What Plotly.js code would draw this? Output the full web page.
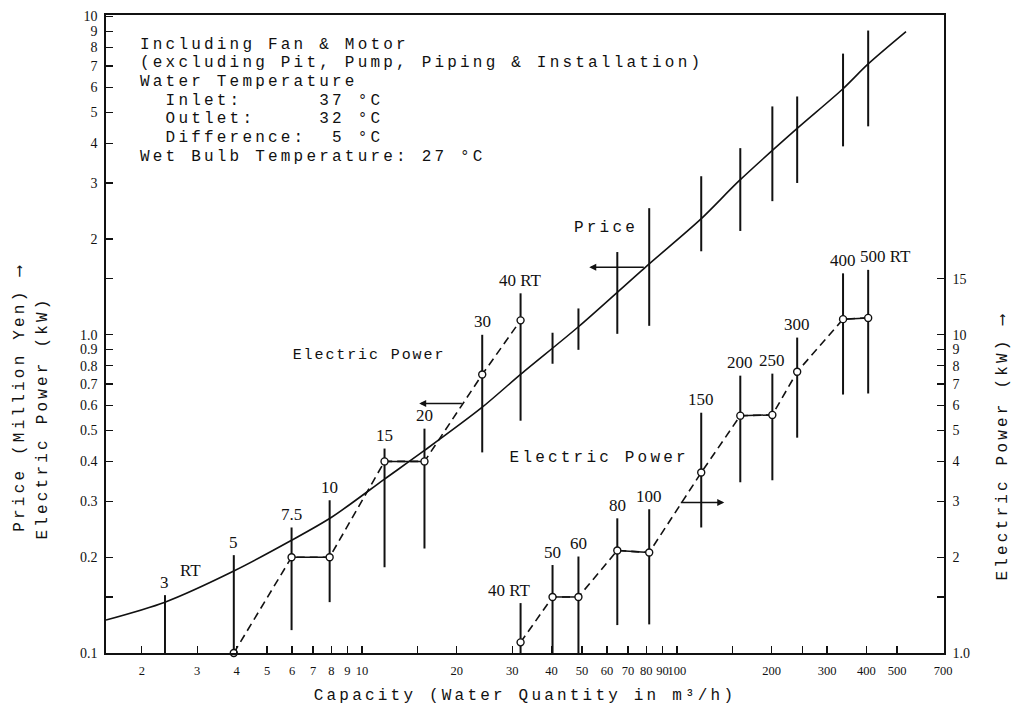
<!DOCTYPE html>
<html><head><meta charset="utf-8">
<script src="https://cdn.plot.ly/plotly-3.0.1.min.js"></script>
<style>body{margin:0;background:#fff}#chart{width:1015px;height:713px}</style>
</head><body><div id="chart"></div>
<script>
// ---- Price curve (Million Yen) ----
const priceX = [1.54, 2.37, 3.92, 5.98, 8.01, 11.8, 15.8, 24.0, 32.1, 48.7, 79.4, 118.6, 157.8, 239, 335, 405, 534];
const priceY = [0.127, 0.1445, 0.181, 0.226, 0.267, 0.352, 0.433, 0.59, 0.755, 1.06, 1.63, 2.3, 3.05, 4.42, 5.9, 7.1, 8.97];

// ---- Capacities (m3/h) of each tower size (vertical bars) ----
const barX = [2.37, 3.92, 5.98, 7.9, 11.8, 15.8, 24.1, 31.9, 40.3, 48.7, 64.7, 81.7, 119.5, 159, 201, 241, 337, 405];
// upper bars (left axis): lower / upper end
const upLo = [0.1, 0.1, 0.118, 0.1445, 0.186, 0.213, 0.427, 0.537, 0.811, 0.897, 1.007, 1.067, 1.83, 2.12, 2.63, 3.0, 3.91, 4.52];
const upHi = [0.152, 0.203, 0.248, 0.302, 0.439, 0.507, 1.0, 1.35, 1.015, 1.21, 1.82, 2.5, 3.15, 3.86, 5.22, 5.61, 7.65, 9.04];
// lower bars (right axis, kW) for 40 RT ... 500 RT
const lowX = [31.9, 40.3, 48.7, 64.7, 81.7, 119.5, 159, 201, 241, 337, 405];
const lowLo = [1.0, 1.0, 1.0, 1.224, 1.23, 2.48, 3.44, 3.49, 4.75, 6.49, 6.54];
const lowHi = [1.435, 1.89, 2.01, 2.65, 2.83, 5.69, 7.44, 7.55, 9.8, 15.6, 16.0];

// ---- Electric power, small towers (left axis, kW) ----
const pow1X = [3.92, 5.98, 7.9, 11.8, 15.8, 24.1, 31.9];
const pow1Y = [0.1, 0.2, 0.2, 0.4, 0.4, 0.75, 1.11];
const rt1Labels = ['3', '5', '7.5', '10', '15', '20', '30', '40 RT'];

// ---- Electric power, large towers (right axis, kW) ----
const pow2X = [31.9, 40.3, 48.7, 64.7, 81.7, 119.5, 159, 201, 241, 337, 405];
const pow2Y = [1.08, 1.5, 1.5, 2.1, 2.07, 3.69, 5.57, 5.6, 7.65, 11.2, 11.3];
const rt2Labels = ['40 RT', '50', '60', '80', '100', '150', '200', '250', '300', '400', '500 RT'];

// ---- Tick labels ----
const xTickVals = [2, 3, 4, 5, 6, 7, 8, 9, 10, 15, 20, 30, 40, 50, 60, 70, 80, 90, 100, 150, 200, 250, 300, 400, 500, 700];
const xTickText = ['2', '3', '4', '5', '6', '7', '8', '9', '10', '', '20', '30', '40', '50', '60', '70', '80', '90', '100', '', '200', '', '300', '400', '500', '700'];
const yTickVals = [0.1, 0.15, 0.2, 0.3, 0.4, 0.5, 0.6, 0.7, 0.8, 0.9, 1, 1.5, 2, 3, 4, 5, 6, 7, 8, 9, 10];
const yTickText = ['0.1', '', '0.2', '0.3', '0.4', '0.5', '0.6', '0.7', '0.8', '0.9', '1.0', '', '2', '3', '4', '5', '6', '7', '8', '9', '10'];
const y2TickVals = [1, 1.5, 2, 3, 4, 5, 6, 7, 8, 9, 10, 15];
const y2TickText = ['1.0', '', '2', '3', '4', '5', '6', '7', '8', '9', '10', '15'];

const noteLines = [
  'Including Fan & Motor',
  '(excluding Pit, Pump, Piping & Installation)',
  'Water Temperature',
  '  Inlet:      37 °C',
  '  Outlet:     32 °C',
  '  Difference:  5 °C',
  'Wet Bulb Temperature: 27 °C'
];

const INK = '#111';
const MONO = 'Liberation Mono, DejaVu Sans Mono, monospace';
const SERIF = 'Liberation Serif, DejaVu Serif, serif';

function segs(xs, lo, hi) {
  const x = [], y = [];
  xs.forEach((v, i) => { x.push(v, v, null); y.push(lo[i], hi[i], null); });
  return {x, y};
}
function flatSegs(xs, ys) {
  const x = [], y = [];
  for (let i = 0; i < xs.length - 1; i++) {
    if (Math.abs(ys[i] - ys[i + 1]) / ys[i] < 0.03) {
      x.push(xs[i], xs[i + 1], null); y.push(ys[i], ys[i + 1], null);
    }
  }
  return {x, y};
}

const up = segs(barX, upLo, upHi);
const low = segs(lowX, lowLo, lowHi);
const f1 = flatSegs(pow1X, pow1Y);
const f2 = flatSegs(pow2X, pow2Y);

const traces = [
  {x: up.x, y: up.y, mode: 'lines', line: {color: INK, width: 2}, yaxis: 'y', hoverinfo: 'skip'},
  {x: low.x, y: low.y, mode: 'lines', line: {color: INK, width: 2}, yaxis: 'y2', hoverinfo: 'skip'},
  {x: priceX, y: priceY, mode: 'lines', line: {color: INK, width: 1.6, shape: 'spline', smoothing: 0.8}, yaxis: 'y'},
  {x: pow1X, y: pow1Y, mode: 'lines', line: {color: INK, width: 1.6, dash: '8px,5px'}, yaxis: 'y'},
  {x: f1.x, y: f1.y, mode: 'lines', line: {color: INK, width: 1.5}, yaxis: 'y'},
  {x: pow1X, y: pow1Y, mode: 'markers', marker: {symbol: 'circle', size: 7, color: '#fff', line: {color: INK, width: 1.4}}, yaxis: 'y', cliponaxis: false},
  {x: pow2X, y: pow2Y, mode: 'lines', line: {color: INK, width: 1.6, dash: '8px,5px'}, yaxis: 'y2'},
  {x: f2.x, y: f2.y, mode: 'lines', line: {color: INK, width: 1.5}, yaxis: 'y2'},
  {x: pow2X, y: pow2Y, mode: 'markers', marker: {symbol: 'circle', size: 7, color: '#fff', line: {color: INK, width: 1.4}}, yaxis: 'y2', cliponaxis: false}
];

const L = Math.log10;
const annotations = [];
function txt(x, y, text, size, family, extra) {
  return Object.assign({xref: 'paper', yref: 'paper', x: x, y: y, xanchor: 'center', yanchor: 'middle',
    text: text, showarrow: false, font: {family: family, size: size, color: INK}}, extra || {});
}
// note block
const noteY = [0.953, 0.9248, 0.895, 0.8652, 0.837, 0.8072, 0.7774];
noteLines.forEach((t, i) => annotations.push(txt(0.0382, noteY[i], t.replace(/ /g, '\u00a0'), 16, MONO,
  {xanchor: 'left', align: 'left'})));
// RT labels
rt1Labels.forEach((t, i) => annotations.push({
  xref: 'x', yref: 'y', x: L(barX[i]), y: L(upHi[i]), yshift: 13, yanchor: 'middle', xanchor: 'center',
  text: t, showarrow: false, font: {family: SERIF, size: 17, color: INK}
}));
rt2Labels.forEach((t, i) => annotations.push({
  xref: 'x', yref: 'y2', x: L(lowX[i]), y: L(lowHi[i]), yshift: 13, yanchor: 'middle', xanchor: 'center',
  xshift: (i === 0 ? -11 : (i === rt2Labels.length - 1 ? 17 : 0)),
  text: t, showarrow: false, font: {family: SERIF, size: 17, color: INK}
}));
annotations.push(txt(0.1014, 0.1300, 'RT', 17, SERIF));
// curve names
annotations.push(txt(0.5967, 0.666, 'Price', 16, MONO));
annotations.push(txt(0.3138, 0.467, 'Electric\u00a0Power', 15, MONO));
annotations.push(txt(0.5883, 0.3056, 'Electric\u00a0Power', 16, MONO));
// pointer arrows (which axis each curve belongs to)
annotations.push({xref: 'x', yref: 'y', x: L(52.7), y: L(1.63), axref: 'x', ayref: 'y', ax: L(79.4), ay: L(1.63),
  text: '', showarrow: true, arrowhead: 2, arrowsize: 1, arrowwidth: 1.4, arrowcolor: INK});
annotations.push({xref: 'x', yref: 'y', x: L(15.2), y: L(0.608), axref: 'x', ayref: 'y', ax: L(21.0), ay: L(0.608),
  text: '', showarrow: true, arrowhead: 2, arrowsize: 1, arrowwidth: 1.4, arrowcolor: INK});
annotations.push({xref: 'x', yref: 'y2', x: L(141.4), y: L(2.97), axref: 'x', ayref: 'y2', ax: L(101.8), ay: L(2.97),
  text: '', showarrow: true, arrowhead: 2, arrowsize: 1, arrowwidth: 1.4, arrowcolor: INK});
// axis titles (vertical)
annotations.push(txt(-0.1026, 0.401, 'Price\u00a0(Million\u00a0Yen)\u00a0⟶', 16, MONO, {textangle: -90}));
annotations.push(txt(-0.0752, 0.368, 'Electric\u00a0Power\u00a0(kW)', 16, MONO, {textangle: -90}));
annotations.push(txt(1.0704, 0.326, 'Electric\u00a0Power\u00a0(kW)\u00a0⟶', 16, MONO, {textangle: -90}));

const axisCommon = {
  type: 'log', ticks: 'inside', ticklen: 7, tickwidth: 1.3, tickcolor: INK,
  showline: true, linecolor: INK, linewidth: 1.7, showgrid: false, zeroline: false,
  tickfont: {family: SERIF, size: 14, color: INK}, tickangle: 0
};

const layout = {
  width: 1015, height: 713,
  margin: {l: 106, r: 71, t: 15, b: 60},
  paper_bgcolor: '#fff', plot_bgcolor: '#fff', showlegend: false,
  font: {family: SERIF, color: INK},
  xaxis: Object.assign({}, axisCommon, {
    range: [L(1.54), L(705)], tickvals: xTickVals, ticktext: xTickText, mirror: true,
    tickfont: {family: SERIF, size: 12.5, color: INK}, ticklabelstandoff: 5,
    title: {text: 'Capacity (Water Quantity in m³/h)', font: {family: MONO, size: 16, color: INK}, standoff: 12}
  }),
  yaxis: Object.assign({}, axisCommon, {
    range: [-1, 1.005], tickvals: yTickVals, ticktext: yTickText, ticklabelstandoff: 4
  }),
  yaxis2: Object.assign({}, axisCommon, {
    range: [0, 2.005], tickvals: y2TickVals, ticktext: y2TickText, overlaying: 'y', side: 'right', ticklabelstandoff: 4
  }),
  annotations: annotations
};

Plotly.newPlot('chart', traces, layout, {staticPlot: true, displayModeBar: false}).then(function (gd) {
  // widen the typewriter-style texts to the reference's character pitch
  gd.querySelectorAll('text').forEach(function (t) {
    const ff = t.style.fontFamily || '';
    if (ff.indexOf('Mono') >= 0) {
      const fs = parseFloat(t.style.fontSize) || 16;
      t.style.letterSpacing = (fs >= 16 ? 3.2 : 1.9) + 'px';
    }
  });
});
</script>
</body></html>
